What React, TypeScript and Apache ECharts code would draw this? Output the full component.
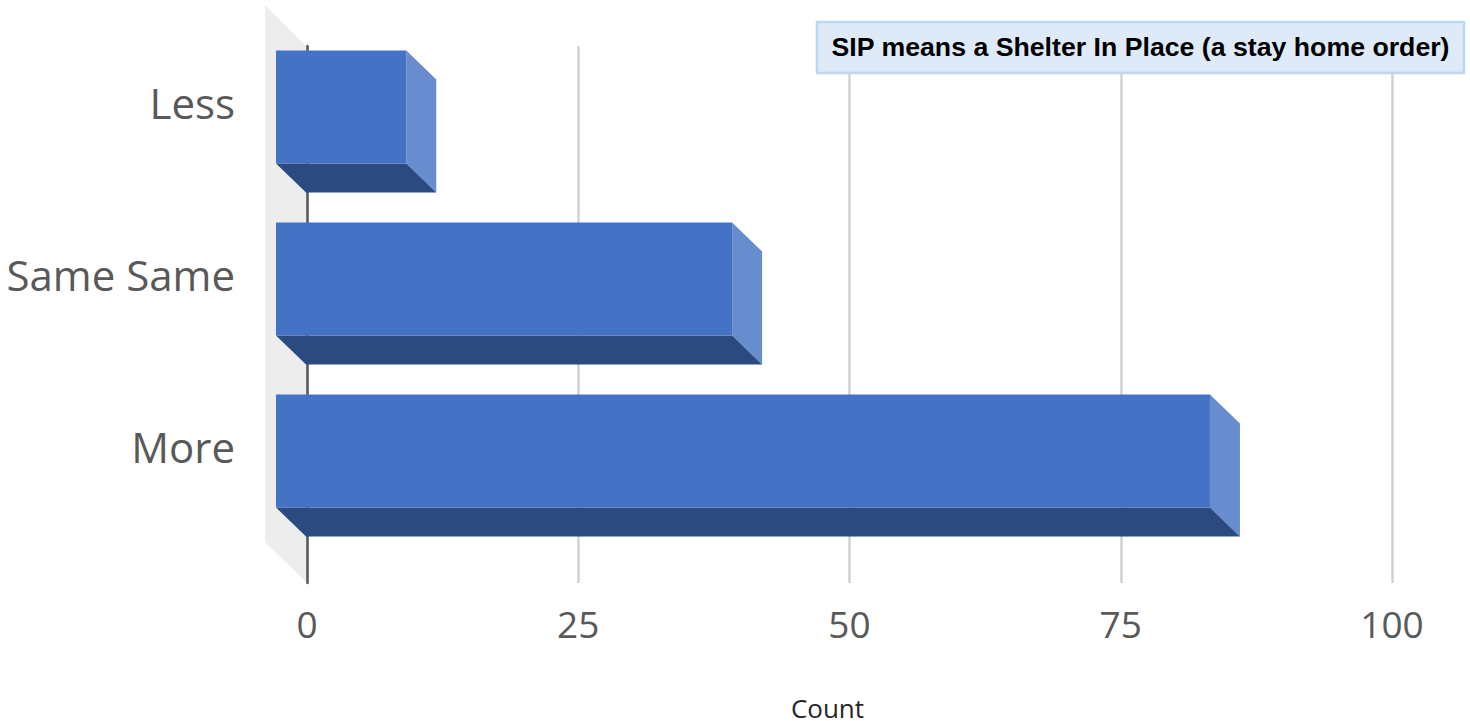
import React, { useEffect, useRef } from "react";
import * as echarts from "echarts";

const categories = ["Less", "Same Same", "More"];
const counts = [12, 42, 86];
const xTicks = { min: 0, max: 100, interval: 25 };
const axisTitle = "Count";
const noteText = "SIP means a Shelter In Place (a stay home order)";

const DEPTH_X = 30;
const DEPTH_Y = 29;
const FRONT = "#4472c4";
const SIDE = "#678dcf";
const UNDER = "#2b4a80";

const labelFont = '"Open Sans", sans-serif';

function renderBar(_params: any, api: any) {
  const v = api.value(0);
  const c = api.value(1);
  const start = api.coord([0, c]);
  const end = api.coord([v, c]);
  const h = api.size([0, 1])[1] * (113 / 172);
  const x0 = start[0];
  const x1 = end[0];
  const top = start[1] - h / 2;
  const bot = start[1] + h / 2;
  return {
    type: "group",
    children: [
      {
        type: "polygon",
        shape: { points: [[x1, top], [x1 + DEPTH_X, top + DEPTH_Y], [x1 + DEPTH_X, bot + DEPTH_Y], [x1, bot]] },
        style: { fill: SIDE },
      },
      {
        type: "polygon",
        shape: { points: [[x0, bot], [x1, bot], [x1 + DEPTH_X, bot + DEPTH_Y], [x0 + DEPTH_X, bot + DEPTH_Y]] },
        style: { fill: UNDER },
      },
      {
        type: "rect",
        shape: { x: x0, y: top, width: x1 - x0, height: bot - top },
        style: { fill: FRONT },
      },
    ],
  };
}

export default function App() {
  const ref = useRef<HTMLDivElement>(null);
  useEffect(() => {
    if (!ref.current) return;
    const chart = echarts.init(ref.current, undefined, { renderer: "svg" });
    chart.setOption({
      animation: false,
      backgroundColor: "#ffffff",
      grid: [
        { left: 307, width: 1085, top: 46, height: 537, outerBoundsMode: "none" },
        { left: 276, width: 1086, top: 21, height: 516, outerBoundsMode: "none" },
      ],
      xAxis: [
        {
          gridIndex: 0,
          type: "value",
          min: xTicks.min,
          max: xTicks.max,
          interval: xTicks.interval,
          axisLine: { show: false },
          axisTick: { show: false },
          axisLabel: { fontFamily: labelFont, fontSize: 37, color: "#595959", margin: 22 },
          splitLine: { show: true, lineStyle: { color: "#d2d2d2", width: 2.5 } },
          name: axisTitle,
          nameLocation: "middle",
          nameGap: 114,
          nameTextStyle: {
            fontFamily: labelFont,
            fontSize: 26,
            lineHeight: 22,
            color: "#262626",
            padding: [0, 44, 0, 0],
          },
        },
        {
          gridIndex: 1,
          type: "value",
          min: xTicks.min,
          max: xTicks.max,
          interval: xTicks.interval,
          show: false,
        },
      ],
      yAxis: [
        {
          gridIndex: 0,
          type: "value",
          min: 0,
          max: 1,
          axisLine: { show: true, onZero: false, lineStyle: { color: "#595959", width: 2.5 } },
          axisTick: { show: false },
          axisLabel: { show: false },
          splitLine: { show: false },
        },
        {
          gridIndex: 1,
          type: "category",
          inverse: true,
          data: categories,
          axisLine: { show: false },
          axisTick: { show: false },
          splitLine: { show: false },
          axisLabel: {
            fontFamily: labelFont,
            fontSize: 42,
            color: "#595959",
            margin: 41,
            verticalAlign: "bottom",
            lineHeight: 10,
          },
        },
      ],
      series: [
        {
          type: "custom",
          xAxisIndex: 1,
          yAxisIndex: 1,
          renderItem: renderBar,
          encode: { x: 0, y: 1 },
          data: counts.map((v, i) => [v, i]),
          z: 5,
        },
      ],
      graphic: [
        {
          type: "polygon",
          z: -1,
          silent: true,
          shape: { points: [[265, 5], [307, 47], [307, 583], [265, 542]] },
          style: { fill: "#ededed" },
        },
        {
          type: "rect",
          z: 10,
          shape: { x: 817, y: 22, width: 647, height: 51 },
          style: { fill: "#deeaf7", stroke: "#bdd7f0", lineWidth: 2.5 },
        },
        {
          type: "text",
          z: 11,
          x: 1140.5,
          y: 47,
          style: {
            text: noteText,
            fontFamily: '"Liberation Sans", Arial, sans-serif',
            fontWeight: "bold",
            fontSize: 26.7,
            fill: "#000000",
            align: "center",
            verticalAlign: "middle",
          },
        },
      ],
    });
    return () => chart.dispose();
  }, []);
  return (
    <div
      ref={ref}
      style={{ position: "absolute", left: 0, top: 0, width: 1470, height: 721 }}
    />
  );
}
